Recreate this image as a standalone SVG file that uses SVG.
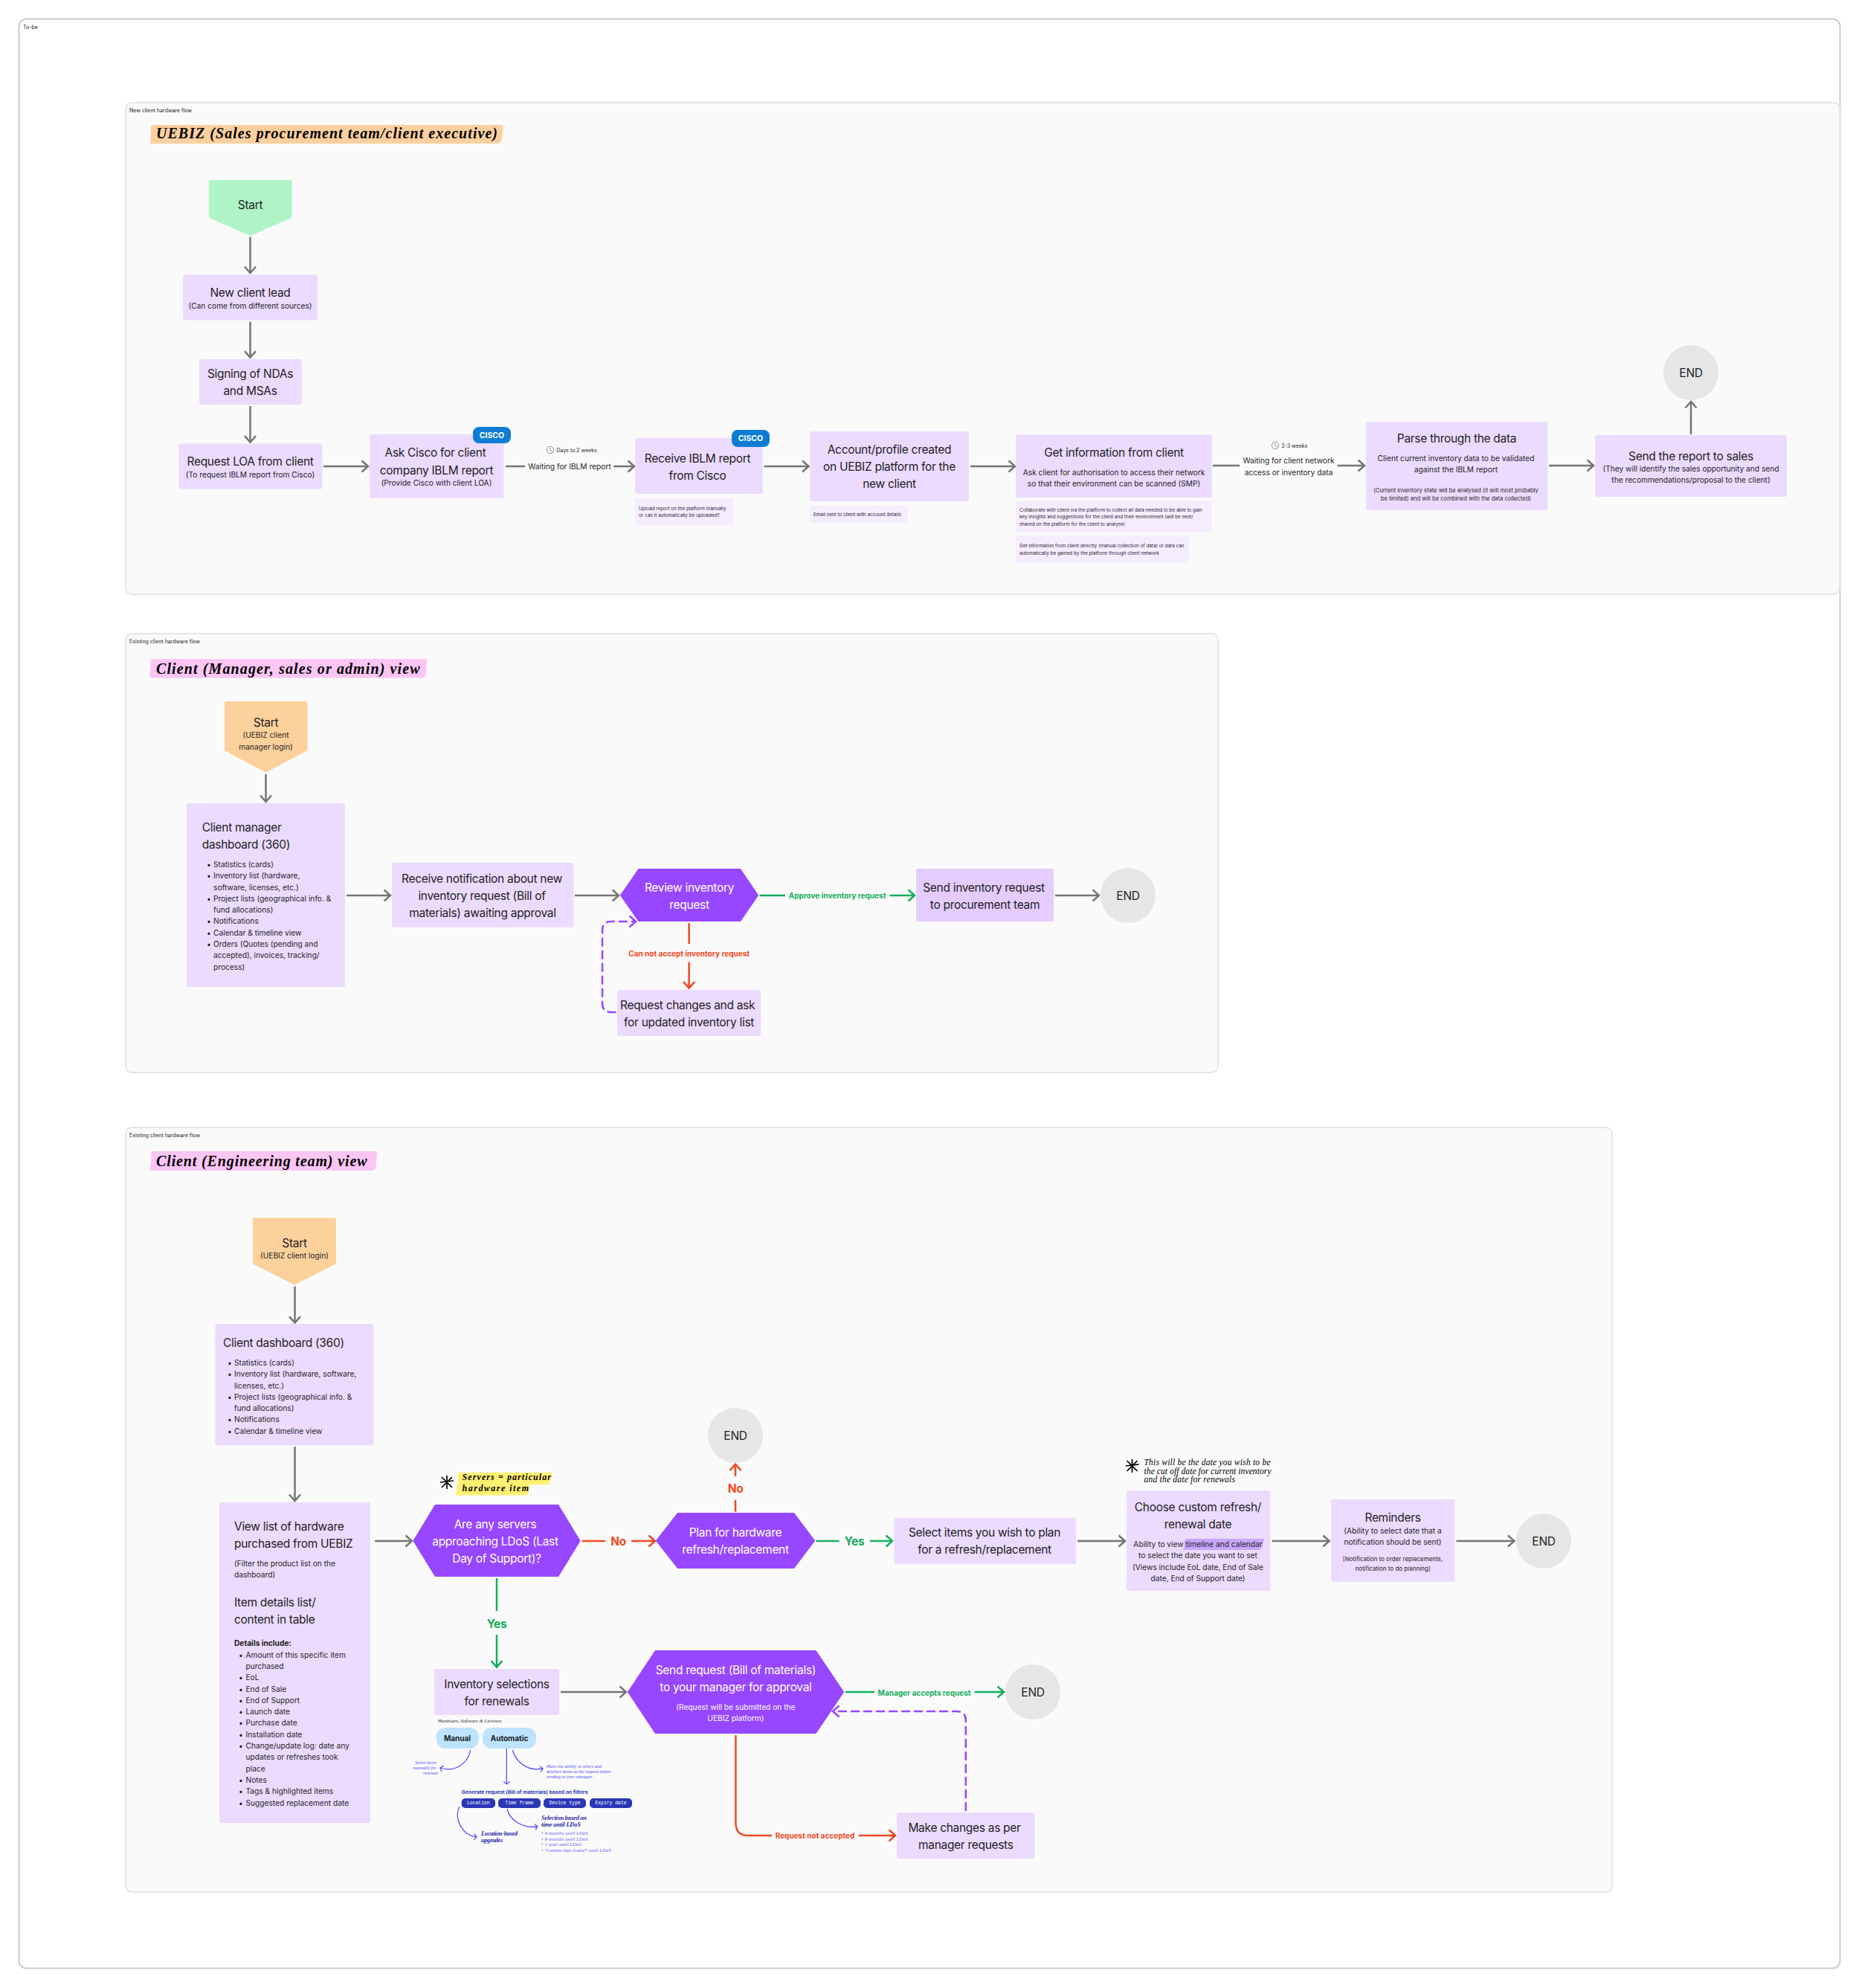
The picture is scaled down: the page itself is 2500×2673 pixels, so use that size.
<svg xmlns="http://www.w3.org/2000/svg" width="2500" height="2673" viewBox="0 0 2500 2673">
<style>
text{font-family:Inter,"Noto Sans",sans-serif;dominant-baseline:central;fill:#1e1e1e}
.m{text-anchor:middle}.e{text-anchor:end}
.f16{font-size:15.500px;letter-spacing:-.3px}.f10{font-size:10.200px}.f8{font-size:8px}.f76{font-size:7.600px}.f6{font-size:6.350px}.f7{font-size:7px}
.w{fill:#fff}
.b{font-weight:700}
.h{font-family:"Liberation Serif",serif;font-style:italic;fill:#000;font-weight:700}
.ht{font-family:"Liberation Serif",serif;font-style:italic;fill:#000}
.hb{font-family:"Liberation Serif",serif;font-style:italic;fill:#5551ff}
.hd{font-family:"Liberation Serif",serif;font-style:italic;fill:#2c2ca8;font-weight:700;font-size:8.5px}
.mono{font-family:"Liberation Mono",monospace;font-size:6.4px;fill:#fff;text-anchor:middle}
.frame{fill:#fff;stroke:#ccc;stroke-width:2}
.grp{fill:#fafafa;stroke:#e6e6e6;stroke-width:2}
.n{fill:#ebdbff}.n2{fill:#e4ccff}.note{fill:#f5edff}
.hex{fill:#9747ff;stroke:#9747ff;stroke-width:2;stroke-linejoin:round}
.end{fill:#e6e6e6}
.badge{fill:#0d7dd4}
.pill{fill:#bde3ff}.chip{fill:#2b38b5}
.c{fill:none;stroke-width:2.5}
.g{stroke:#757575;marker-end:url(#ag)}
.r{stroke:#f24822;marker-end:url(#ar)}
.gn{stroke:#14ae5c;marker-end:url(#agn)}
.p{stroke:#9747ff;marker-end:url(#ap);stroke-dasharray:12 5}
.bl{fill:none;stroke:#5551ff;stroke-width:1.3;marker-end:url(#abl)}
.seg{fill:none;stroke-width:2.5}
.sg{stroke:#757575}.sr{stroke:#f24822}.sgn{stroke:#14ae5c}
.star{fill:none;stroke:#000;stroke-width:1.7}
.clk{fill:none;stroke:#757575;stroke-width:.8}
</style>
<defs>
<marker id="ag" markerUnits="userSpaceOnUse" markerWidth="24" markerHeight="24" viewBox="-12 -12 24 24" refX="0" refY="0" orient="auto"><path d="M-8.5-7.5L0 0L-8.5 7.5" fill="none" stroke="#757575" stroke-width="2.5"/></marker>
<marker id="ar" markerUnits="userSpaceOnUse" markerWidth="24" markerHeight="24" viewBox="-12 -12 24 24" refX="0" refY="0" orient="auto"><path d="M-8.5-7.5L0 0L-8.5 7.5" fill="none" stroke="#f24822" stroke-width="2.5"/></marker>
<marker id="agn" markerUnits="userSpaceOnUse" markerWidth="24" markerHeight="24" viewBox="-12 -12 24 24" refX="0" refY="0" orient="auto"><path d="M-8.5-7.5L0 0L-8.5 7.5" fill="none" stroke="#14ae5c" stroke-width="2.5"/></marker>
<marker id="ap" markerUnits="userSpaceOnUse" markerWidth="24" markerHeight="24" viewBox="-12 -12 24 24" refX="0" refY="0" orient="auto"><path d="M-8.5-7.5L0 0L-8.5 7.5" fill="none" stroke="#9747ff" stroke-width="2.5"/></marker>
<marker id="abl" markerUnits="userSpaceOnUse" markerWidth="14" markerHeight="14" viewBox="-7 -7 14 14" refX="0" refY="0" orient="auto"><path d="M-3.5-4L0 0L-3.5 4" fill="none" stroke="#5551ff" stroke-width="1.3"/></marker>
</defs>
<rect width="2500" height="2673" fill="#fff"/>
<g id="frame-to-be"><rect class="frame" x="25.5" y="25.5" width="2449" height="2621" rx="10"/><text class="f7" x="31" y="36">To-be</text></g>
<g id="frame-new-client"><rect class="grp" x="169" y="138" width="2305" height="661" rx="8"/><text class="f7" x="174" y="148.500">New client hardware flow</text></g>
<g id="frame-existing-manager"><rect class="grp" x="169" y="852" width="1469" height="590" rx="8"/><text class="f7" x="174" y="862.500">Existing client hardware flow</text></g>
<g id="frame-existing-engineering"><rect class="grp" x="169" y="1516" width="1999" height="1028" rx="8"/><text class="f7" x="174" y="1526">Existing client hardware flow</text></g>

<g id="connectors">
<path class="c g" d="M336.500 318.600V367"/>
<path class="c g" d="M336.500 432.500V480.700"/>
<path class="c g" d="M336.500 546V594.600"/>
<path class="c g" d="M435 627H495"/>
<path class="seg sg" d="M680 627H706"/>
<path class="c g" d="M825 627H853"/>
<path class="c g" d="M1027.500 627H1087.500"/>
<path class="c g" d="M1305 627H1365"/>
<path class="seg sg" d="M1631 626H1667"/>
<path class="c g" d="M1798.600 626H1835"/>
<path class="c g" d="M2083 626H2143"/>
<path class="c g" d="M2274 584V540"/>
<path class="c g" d="M357.500 1041V1078"/>
<path class="c g" d="M466 1204H525"/>
<path class="c g" d="M773 1204H832"/>
<path class="seg sgn" d="M1021.400 1204H1056"/>
<path class="c gn" d="M1196.500 1204H1230"/>
<path class="c g" d="M1419 1204H1478"/>
<path class="seg sr" d="M926.600 1241V1269"/>
<path class="c r" d="M926.600 1293.700V1328.700"/>
<path class="c p" d="M828.500 1361H822Q810 1361 810 1349V1251Q810 1239 822 1239H855"/>
<path class="c g" d="M396.500 1729.600V1778.600"/>
<path class="c g" d="M396.500 1945V2018"/>
<path class="c g" d="M504 2072H554"/>
<path class="seg sr" d="M782.500 2072H814"/>
<path class="c r" d="M849 2072H881"/>
<path class="seg sgn" d="M668 2122V2166"/>
<path class="c gn" d="M668 2198V2241.700"/>
<path class="c g" d="M754 2275H842"/>
<path class="seg sr" d="M989 2032.700V2016.700"/>
<path class="c r" d="M989 1985V1968.700"/>
<path class="seg sgn" d="M1097.500 2072H1128.600"/>
<path class="c gn" d="M1169.700 2072H1200"/>
<path class="c g" d="M1449 2072H1513"/>
<path class="c g" d="M1710.600 2072H1787.700"/>
<path class="c g" d="M1958.500 2072H2036.400"/>
<path class="seg sgn" d="M1136.700 2275H1176"/>
<path class="c gn" d="M1310.600 2275H1350"/>
<path class="seg sr" d="M989.400 2333V2451Q989.400 2468 1006 2468H1038"/>
<path class="c r" d="M1154.700 2468H1204"/>
<path class="c p" d="M1298.800 2435V2313Q1298.800 2301 1286 2301H1120"/>
<path class="bl" d="M632.700 2353C630 2370 612 2384 592 2377"/>
<path class="bl" d="M681.300 2351V2399"/>
<path class="bl" d="M689.300 2353C694 2370 710 2382 730 2378"/>
<path class="bl" d="M617.700 2429C610 2446 622 2468 641 2470"/>
<path class="bl" d="M682 2432C685 2447 703 2459 723 2456"/>
</g>

<g id="title-uebiz"><path fill="#fccf9e" d="M205 168H674Q677 168 676.500 172L675 186Q674 193 668 193H202L203 180L202.500 172Q203 168 205 168Z"/><text class="h" font-size="20" x="210" y="179" textLength="459">UEBIZ (Sales procurement team/client executive)</text></g>
<g id="node-start-green"><polygon points="283,244 390.500,244 390.500,291.500 336.500,315 283,291.500" fill="#aff4c6" stroke="#aff4c6" stroke-width="4" stroke-linejoin="round"/><text class="f16 m" x="336.500" y="275">Start</text></g>
<g id="node-new-lead"><rect class="n" x="246" y="369.500" width="181" height="61" rx="3"/><text class="f16 m" x="336.500" y="393.500">New client lead</text><text class="f10 m" x="336.500" y="411">(Can come from different sources)</text></g>
<g id="node-signing"><rect class="n" x="268" y="483" width="138" height="61" rx="3"/><text class="f16 m" x="336.500" y="502">Signing of NDAs</text><text class="f16 m" x="336.500" y="525">and MSAs</text></g>
<g id="node-loa"><rect class="n" x="240.500" y="596.500" width="193" height="61" rx="3"/><text class="f16 m" x="336.500" y="620.500">Request LOA from client</text><text class="f10 m" x="336.500" y="637.500">(To request IBLM report from Cisco)</text></g>
<g id="node-ask-cisco"><rect class="n" x="497" y="584" width="180.500" height="86" rx="3"/><text class="f16 m" x="585.500" y="608.500">Ask Cisco for client</text><text class="f16 m" x="587" y="632">company IBLM report</text><text class="f10 m" x="587" y="649">(Provide Cisco with client LOA)</text></g>
<g id="badge-cisco-1"><rect class="badge" x="636" y="574" width="51" height="22" rx="8"/><text class="b w m" font-size="10.500" x="661.500" y="585">CISCO</text></g>
<g id="label-wait-iblm"><circle class="clk" cx="740" cy="605" r="4.700"/><path class="clk" d="M740 602V605.500L743 607"/><text class="f7" x="748.500" y="605">Days to 2 weeks</text><text class="f10 m" x="766" y="627">Waiting for IBLM report</text></g>
<g id="node-receive"><rect class="n" x="854" y="589" width="171.500" height="75" rx="3"/><text class="f16 m" x="938" y="616">Receive IBLM report</text><text class="f16 m" x="938" y="639">from Cisco</text></g>
<g id="badge-cisco-2"><rect class="badge" x="984" y="578" width="51" height="23" rx="8"/><text class="b w m" font-size="10.500" x="1009.500" y="589.500">CISCO</text></g>
<g id="note-upload"><rect class="note" x="854" y="670" width="132" height="36" rx="3"/><text class="f6" x="859" y="683.500">Upload report on the platform manually</text><text class="f6" x="859" y="693">or can it automatically be uploaded?</text></g>
<g id="node-account"><rect class="n" x="1089" y="580" width="214" height="94" rx="3"/><text class="f16 m" x="1196" y="604">Account/profile created</text><text class="f16 m" x="1196" y="627">on UEBIZ platform for the</text><text class="f16 m" x="1196" y="650">new client</text></g>
<g id="note-email"><rect class="note" x="1089" y="680" width="132" height="23" rx="3"/><text class="f6" x="1094" y="692">Email sent to client with account details</text></g>
<g id="node-get-info"><rect class="n" x="1366" y="584.500" width="264" height="84.500" rx="3"/><text class="f16 m" x="1498" y="608">Get information from client</text><text class="f10 m" x="1498" y="635">Ask client for authorisation to access their network</text><text class="f10 m" x="1498" y="650">so that their environment can be scanned (SMP)</text></g>
<g id="note-collaborate"><rect class="note" x="1366" y="674" width="264" height="42" rx="3"/><text class="f6" x="1371" y="685.700">Collaborate with client via the platform to collect all data needed to be able to gain</text><text class="f6" x="1371" y="695">key insights and suggestions for the client and their environment (will be sent/</text><text class="f6" x="1371" y="705">shared on the platform for the client to analyse)</text></g>
<g id="note-direct"><rect class="note" x="1366" y="721" width="233" height="36" rx="3"/><text class="f6" x="1371" y="734">Get information from client directly (manual collection of data) or data can</text><text class="f6" x="1371" y="744">automatically be gained by the platform through client network</text></g>
<g id="label-wait-network"><circle class="clk" cx="1715" cy="599" r="4.700"/><path class="clk" d="M1715 596V599.500L1718 601"/><text class="f7" x="1723.400" y="599.500">2-3 weeks</text><text class="f10 m" x="1733" y="619">Waiting for client network</text><text class="f10 m" x="1733" y="634.700">access or inventory data</text></g>
<g id="node-parse"><rect class="n" x="1837" y="567" width="244.500" height="119" rx="3"/><text class="f16 m" x="1959" y="589.700">Parse through the data</text><text class="f10 m" x="1958" y="616">Client current inventory data to be validated</text><text class="f10 m" x="1958" y="631">against the IBLM report</text><text class="f76 m" x="1958" y="659">(Current inventory state will be analysed (it will most probably</text><text class="f76 m" x="1958" y="670">be limited) and will be combined with the data collected)</text></g>
<g id="node-send-report"><rect class="n" x="2145" y="585" width="258" height="83" rx="3"/><text class="f16 m" x="2274" y="613">Send the report to sales</text><text class="f10 m" x="2274" y="630">(They will identify the sales opportunity and send</text><text class="f10 m" x="2274" y="645">the recommendations/proposal to the client)</text></g>
<g id="node-end-1"><circle class="end" cx="2274" cy="501" r="37"/><text class="f16 m" x="2274" y="501">END</text></g>

<g id="title-manager"><path fill="#fbc5f4" d="M205 886H572Q574.500 886 574 889L572.500 906Q572 911.500 566 911.500H201L202 900L202.500 889Q203 886 205 886Z"/><text class="h" font-size="20" x="210" y="898.500" textLength="354.600">Client (Manager, sales or admin) view</text></g>
<g id="node-start-manager"><polygon points="304,945 411.500,945 411.500,1008 357.500,1036.500 304,1008" fill="#fcd19c" stroke="#fcd19c" stroke-width="4" stroke-linejoin="round"/><text class="f16 m" x="357.500" y="971">Start</text><text class="f10 m" x="357.500" y="988">(UEBIZ client</text><text class="f10 m" x="357.500" y="1003.600">manager login)</text></g>
<g id="node-manager-dashboard"><rect class="n" x="251" y="1080" width="213" height="247" rx="3"/><text class="f16" x="271.700" y="1112">Client manager</text><text class="f16" x="271.700" y="1135">dashboard (360)</text>
<text class="f10" y="1162"><tspan x="278">•</tspan><tspan x="287">Statistics (cards)</tspan></text>
<text class="f10" y="1177"><tspan x="278">•</tspan><tspan x="287">Inventory list (hardware,</tspan></text>
<text class="f10" x="287" y="1192.600">software, licenses, etc.)</text>
<text class="f10" y="1208"><tspan x="278">•</tspan><tspan x="287">Project lists (geographical info. &amp;</tspan></text>
<text class="f10" x="287" y="1223">fund allocations)</text>
<text class="f10" y="1238"><tspan x="278">•</tspan><tspan x="287">Notifications</tspan></text>
<text class="f10" y="1253.500"><tspan x="278">•</tspan><tspan x="287">Calendar &amp; timeline view</tspan></text>
<text class="f10" y="1269"><tspan x="278">•</tspan><tspan x="287">Orders (Quotes (pending and</tspan></text>
<text class="f10" x="287" y="1284">accepted), invoices, tracking/</text>
<text class="f10" x="287" y="1300">process)</text></g>
<g id="node-notification"><rect class="n" x="527" y="1160" width="244.500" height="86.700" rx="3"/><text class="f16 m" x="648" y="1181">Receive notification about new</text><text class="f16 m" x="648" y="1204">inventory request (Bill of</text><text class="f16 m" x="649" y="1227">materials) awaiting approval</text></g>
<g id="node-review"><polygon class="hex" points="835,1203.700 859,1169 995.500,1169 1019,1203.700 995.500,1238 859,1238"/><text class="f16 w m" x="927" y="1193">Review inventory</text><text class="f16 w m" x="927" y="1216">request</text></g>
<g id="node-send-inventory"><rect class="n2" x="1232" y="1168" width="185" height="71" rx="3"/><text class="f16 m" x="1323" y="1193">Send inventory request</text><text class="f16 m" x="1324.500" y="1216">to procurement team</text></g>
<g id="node-end-2"><circle class="end" cx="1517" cy="1204" r="37"/><text class="f16 m" x="1517" y="1204">END</text></g>
<g id="node-request-changes"><rect class="n" x="830" y="1331" width="193" height="62" rx="3"/><text class="f16 m" x="924.600" y="1351">Request changes and ask</text><text class="f16 m" x="926.600" y="1374">for updated inventory list</text></g>
<text class="b m" font-size="10" style="fill:#14ae5c" x="1126" y="1204">Approve inventory request</text>
<text class="b m" font-size="10" style="fill:#f24822" x="926.600" y="1282">Can not accept inventory request</text>

<g id="title-engineering"><path fill="#fbc5f4" d="M205 1548H505Q507.500 1548 507 1551L505.500 1568Q505 1574 499 1574H201.500L203 1562L203.500 1551Q204 1548 205 1548Z"/><text class="h" font-size="20" x="210" y="1560.700" textLength="283.500">Client (Engineering team) view</text></g>
<g id="node-start-eng"><polygon points="342,1639.500 450,1639.500 450,1698 396,1725.500 342,1698" fill="#fcd19c" stroke="#fcd19c" stroke-width="4" stroke-linejoin="round"/><text class="f16 m" x="396" y="1671">Start</text><text class="f10 m" x="396" y="1688">(UEBIZ client login)</text></g>
<g id="node-client-dashboard"><rect class="n" x="289.500" y="1780" width="213" height="163.600" rx="3"/><text class="f16" x="300" y="1805">Client dashboard (360)</text>
<text class="f10" y="1832"><tspan x="306">•</tspan><tspan x="315">Statistics (cards)</tspan></text>
<text class="f10" y="1847"><tspan x="306">•</tspan><tspan x="315">Inventory list (hardware, software,</tspan></text>
<text class="f10" x="315" y="1862.500">licenses, etc.)</text>
<text class="f10" y="1878"><tspan x="306">•</tspan><tspan x="315">Project lists (geographical info. &amp;</tspan></text>
<text class="f10" x="315" y="1893">fund allocations)</text>
<text class="f10" y="1908"><tspan x="306">•</tspan><tspan x="315">Notifications</tspan></text>
<text class="f10" y="1923.600"><tspan x="306">•</tspan><tspan x="315">Calendar &amp; timeline view</tspan></text></g>
<g id="note-servers"><path d="M601 1984L601 2002M592 1993L610 1991M594 1986L608 2000M594 2000L608 1986" class="star"/><path fill="#fff170" d="M618 1980H742.500L740 1993Q739 1996 736 1996H712L710.500 2008Q710 2010.500 706 2010.500H613L615 1996L616 1983Q616 1980 618 1980Z"/><text class="h" font-size="12" x="621.600" y="1986" textLength="119.400">Servers = particular</text><text class="h" font-size="12" x="621.600" y="2001" textLength="89.400">hardware item</text></g>
<g id="node-view-list"><rect class="n" x="295" y="2020" width="203" height="431" rx="3"/><text class="f16" x="315" y="2052">View list of hardware</text><text class="f16" x="315" y="2075">purchased from UEBIZ</text><text class="f10" x="315" y="2102">(Filter the product list on the</text><text class="f10" x="315" y="2117">dashboard)</text><text class="f16" x="315" y="2154">Item details list/</text><text class="f16" x="315" y="2177">content in table</text><text class="f10 b" x="315" y="2209">Details include:</text>
<text class="f10" y="2224.700"><tspan x="321">•</tspan><tspan x="330.500">Amount of this specific item</tspan></text>
<text class="f10" x="330.500" y="2240">purchased</text>
<text class="f10" y="2255"><tspan x="321">•</tspan><tspan x="330.500">EoL</tspan></text>
<text class="f10" y="2271"><tspan x="321">•</tspan><tspan x="330.500">End of Sale</tspan></text>
<text class="f10" y="2286"><tspan x="321">•</tspan><tspan x="330.500">End of Support</tspan></text>
<text class="f10" y="2301"><tspan x="321">•</tspan><tspan x="330.500">Launch date</tspan></text>
<text class="f10" y="2316"><tspan x="321">•</tspan><tspan x="330.500">Purchase date</tspan></text>
<text class="f10" y="2332"><tspan x="321">•</tspan><tspan x="330.500">Installation date</tspan></text>
<text class="f10" y="2347"><tspan x="321">•</tspan><tspan x="330.500">Change/update log: date any</tspan></text>
<text class="f10" x="330.500" y="2362">updates or refreshes took</text>
<text class="f10" x="330.500" y="2378">place</text>
<text class="f10" y="2393"><tspan x="321">•</tspan><tspan x="330.500">Notes</tspan></text>
<text class="f10" y="2408"><tspan x="321">•</tspan><tspan x="330.500">Tags &amp; highlighted items</tspan></text>
<text class="f10" y="2424"><tspan x="321">•</tspan><tspan x="330.500">Suggested replacement date</tspan></text></g>
<g id="node-any-servers"><polygon class="hex" points="556.500,2071.700 585.500,2024 750.500,2024 779.500,2071.700 750.500,2119 585.500,2119"/><text class="f16 w m" x="666" y="2049">Are any servers</text><text class="f16 w m" x="666" y="2072">approaching LDoS (Last</text><text class="f16 w m" x="668" y="2095">Day of Support)?</text></g>
<text class="f16 b m" style="fill:#f24822" x="831.500" y="2072">No</text>
<text class="f16 b m" style="fill:#14ae5c" x="668" y="2183">Yes</text>
<g id="node-plan"><polygon class="hex" points="883,2071.700 911.500,2035 1067.500,2035 1095,2071.700 1067.500,2108 911.500,2108"/><text class="f16 w m" x="989" y="2060.700">Plan for hardware</text><text class="f16 w m" x="989" y="2083.700">refresh/replacement</text></g>
<text class="f16 b m" style="fill:#f24822" x="989" y="2001">No</text>
<text class="f16 b m" style="fill:#14ae5c" x="1149" y="2072">Yes</text>
<g id="node-end-3"><circle class="end" cx="989" cy="1930" r="37"/><text class="f16 m" x="989" y="1930">END</text></g>
<g id="node-select-items"><rect class="n" x="1202.500" y="2040.700" width="244.500" height="62" rx="3"/><text class="f16 m" x="1324" y="2060.700">Select items you wish to plan</text><text class="f16 m" x="1324" y="2083.700">for a refresh/replacement</text></g>
<g id="note-date"><path d="M1522.500 1962L1522.500 1980M1513.500 1971L1531.500 1969M1515.500 1964L1529.500 1978M1515.500 1978L1529.500 1964" class="star"/><text class="ht" font-size="11.500" x="1538.500" y="1966" textLength="170">This will be the date you wish to be</text><text class="ht" font-size="11.500" x="1538.500" y="1978" textLength="171">the cut off date for current inventory</text><text class="ht" font-size="11.500" x="1538.500" y="1989" textLength="122.500">and the date for renewals</text></g>
<g id="node-choose"><rect class="n" x="1515" y="2004" width="193.500" height="135" rx="3"/><path fill="#c9a6fb" d="M1595 2069H1700L1697 2081Q1696 2084 1692 2084H1591.500L1593 2072Z"/><text class="f16 m" x="1611" y="2026.700">Choose custom refresh/</text><text class="f16 m" x="1611" y="2049.700">renewal date</text><text class="f10 m" x="1611" y="2076">Ability to view timeline and calendar</text><text class="f10 m" x="1611" y="2091">to select the date you want to set</text><text class="f10 m" x="1611" y="2106.700">(Views include EoL date, End of Sale</text><text class="f10 m" x="1611" y="2122">date, End of Support date)</text></g>
<g id="node-reminders"><rect class="n" x="1790" y="2016" width="166.500" height="111" rx="3"/><text class="f16 m" x="1873" y="2040.700">Reminders</text><text class="f10 m" x="1873" y="2058">(Ability to select date that a</text><text class="f10 m" x="1873" y="2073">notification should be sent)</text><text class="f8 m" x="1873" y="2096">[Notification to order replacements,</text><text class="f8 m" x="1873" y="2108.700">notification to do planning]</text></g>
<g id="node-end-4"><circle class="end" cx="2076" cy="2072" r="37"/><text class="f16 m" x="2076" y="2072">END</text></g>
<g id="node-inventory"><rect class="n" x="584" y="2244" width="168" height="62" rx="3"/><text class="f16 m" x="668" y="2264">Inventory selections</text><text class="f16 m" x="668" y="2287">for renewals</text></g>
<text class="hb" font-size="7" style="fill:#333" x="589" y="2314" textLength="85.600">Hardware, Software &amp; Licenses</text>
<g id="pill-manual"><rect class="pill" x="586.700" y="2323" width="57" height="28" rx="12"/><text class="b m" font-size="10" x="615" y="2337">Manual</text></g>
<g id="pill-automatic"><rect class="pill" x="649" y="2323" width="72" height="28" rx="12"/><text class="b m" font-size="10" x="685" y="2337">Automatic</text></g>
<g id="note-manual"><text class="hb e" font-size="6.500" x="587" y="2369" textLength="29">Select items</text><text class="hb e" font-size="6.500" x="587" y="2376" textLength="32">manually for</text><text class="hb e" font-size="6.500" x="589" y="2383.700" textLength="20">renewal</text></g>
<g id="note-automatic"><text class="hb" font-size="6.500" x="735" y="2374" textLength="74">Have the ability to select and</text><text class="hb" font-size="6.500" x="735" y="2381" textLength="87">deselect items on the request before</text><text class="hb" font-size="6.500" x="735" y="2388.700" textLength="62">sending to your manager</text></g>
<g id="filters"><text class="b" font-size="6.850" style="fill:#2b38b5" x="620.700" y="2409">Generate request (Bill of materials) based on filters</text>
<rect class="chip" x="620.700" y="2418" width="45.300" height="13" rx="5"/><text class="mono" x="643.300" y="2424.500">Location</text>
<rect class="chip" x="670" y="2418" width="57" height="13" rx="5"/><text class="mono" x="698.500" y="2424.500">Time frame</text>
<rect class="chip" x="731" y="2418" width="57" height="13" rx="5"/><text class="mono" x="759.500" y="2424.500">Device type</text>
<rect class="chip" x="793" y="2418" width="57" height="13" rx="5"/><text class="mono" x="821.500" y="2424.500">Expiry date</text></g>
<g id="note-location"><text class="hd" x="647" y="2465" textLength="49">Location-based</text><text class="hd" x="647" y="2474" textLength="29">upgrades</text></g>
<g id="note-time"><text class="hd" x="728" y="2443.700" textLength="61">Selection based on</text><text class="hd" x="728" y="2452.700" textLength="53">time until LDoS</text>
<text class="hb" font-size="6.500" x="728" y="2464">•</text><text class="hb" font-size="6.500" x="732.700" y="2464" textLength="58">6 months until LDoS</text>
<text class="hb" font-size="6.500" x="728" y="2472">•</text><text class="hb" font-size="6.500" x="732.700" y="2472" textLength="58">8 months until LDoS</text>
<text class="hb" font-size="6.500" x="728" y="2479.700">•</text><text class="hb" font-size="6.500" x="732.700" y="2479.700" textLength="49">1 year until LDoS</text>
<text class="hb" font-size="6.500" x="728" y="2487">•</text><text class="hb" font-size="6.500" x="732.700" y="2487" textLength="89">*custom time frame* until LDoS</text></g>
<g id="node-send-request"><polygon class="hex" points="845,2275 881.500,2220 1097,2220 1134,2275 1097,2330 881.500,2330"/><text class="f16 w m" x="989.400" y="2245">Send request (Bill of materials)</text><text class="f16 w m" x="989.400" y="2268">to your manager for approval</text><text class="f10 w m" x="989.400" y="2294.700">(Request will be submitted on the</text><text class="f10 w m" x="989.400" y="2310">UEBIZ platform)</text></g>
<text class="b m" font-size="10" style="fill:#14ae5c" x="1243" y="2275.700">Manager accepts request</text>
<text class="b m" font-size="10" style="fill:#f24822" x="1096" y="2468">Request not accepted</text>
<g id="node-end-5"><circle class="end" cx="1389" cy="2275" r="37"/><text class="f16 m" x="1389" y="2275">END</text></g>
<g id="node-make-changes"><rect class="n" x="1206" y="2437" width="185.500" height="62" rx="3"/><text class="f16 m" x="1297" y="2457">Make changes as per</text><text class="f16 m" x="1298.800" y="2480">manager requests</text></g>
</svg>
